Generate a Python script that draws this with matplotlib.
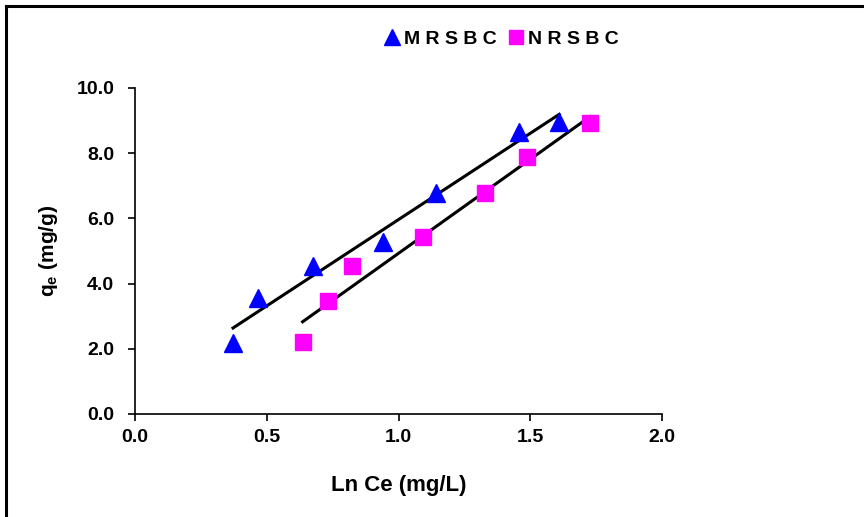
import numpy as np
import matplotlib
matplotlib.use("Agg")
import matplotlib.pyplot as plt
from matplotlib.lines import Line2D

plt.rcParams['font.family'] = ['Liberation Sans', 'DejaVu Sans']
plt.rcParams['font.weight'] = 'bold'

mr_x = [0.372, 0.468, 0.677, 0.940, 1.141, 1.459, 1.610]
mr_y = [2.18, 3.55, 4.54, 5.29, 6.79, 8.66, 8.97]
nr_x = [0.636, 0.734, 0.822, 1.092, 1.328, 1.486, 1.727]
nr_y = [2.22, 3.48, 4.54, 5.44, 6.77, 7.87, 8.94]
labels = ["MRSBC", "NRSBC"]
xticks = [0.0, 0.5, 1.0, 1.5, 2.0]
yticks = [0.0, 2.0, 4.0, 6.0, 8.0, 10.0]

fig = plt.figure(figsize=(8.64, 5.17), dpi=100)
ax = fig.add_axes([135/864, 1-414/517, (662-135)/864, (414-88)/517])

def spaced(s):
    return " ".join(s)

ax.plot(mr_x, mr_y, linestyle='none', marker='^', markersize=13,
        color='#0000FF', label=spaced(labels[0]), zorder=3)
ax.plot(nr_x, nr_y, linestyle='none', marker='s', markersize=12,
        color='#FF00FF', label=spaced(labels[1]), zorder=3)

for xs, ys in [(mr_x, mr_y), (nr_x, nr_y)]:
    p = np.polyfit(xs, ys, 1)
    xx = np.array([min(xs), max(xs)])
    ax.plot(xx, np.polyval(p, xx), color='black', lw=2.2, zorder=2)

ax.set_xlim(0, 2.0)
ax.set_ylim(0, 10.0)
ax.set_xticks(xticks)
ax.set_yticks(yticks)
ax.set_xticklabels([f"{v:.1f}" for v in xticks], fontsize=14, fontweight='bold')
ax.set_yticklabels([f"{v:.1f}" for v in yticks], fontsize=14, fontweight='bold')
ax.tick_params(direction='out', length=5, width=1.2)
ax.tick_params(axis='y', pad=10)
ax.tick_params(axis='x', pad=6)
for s in ['top', 'right']:
    ax.spines[s].set_visible(False)
for s in ['left', 'bottom']:
    ax.spines[s].set_linewidth(1.2)

ax.set_xlabel("Ln Ce (mg/L)", fontsize=16, fontweight='bold', labelpad=21)
ax.set_ylabel("q$_\\mathregular{e}$ (mg/g)", fontsize=15, fontweight='bold', labelpad=12)

fig.legend(loc='center', bbox_to_anchor=(502/864, 1-39/517), ncol=2, frameon=False,
           prop={'size': 14, 'weight': 'bold'}, handlelength=0.7, handletextpad=0.3,
           columnspacing=0.6, markerscale=0.85)

fig.add_artist(Line2D([6/864, 1.0], [1-6/517, 1-6/517], transform=fig.transFigure,
                      color='black', lw=2.2))
fig.add_artist(Line2D([6/864, 6/864], [0, 1-6/517], transform=fig.transFigure,
                      color='black', lw=2.2))

fig.savefig("out.png", dpi=100)
